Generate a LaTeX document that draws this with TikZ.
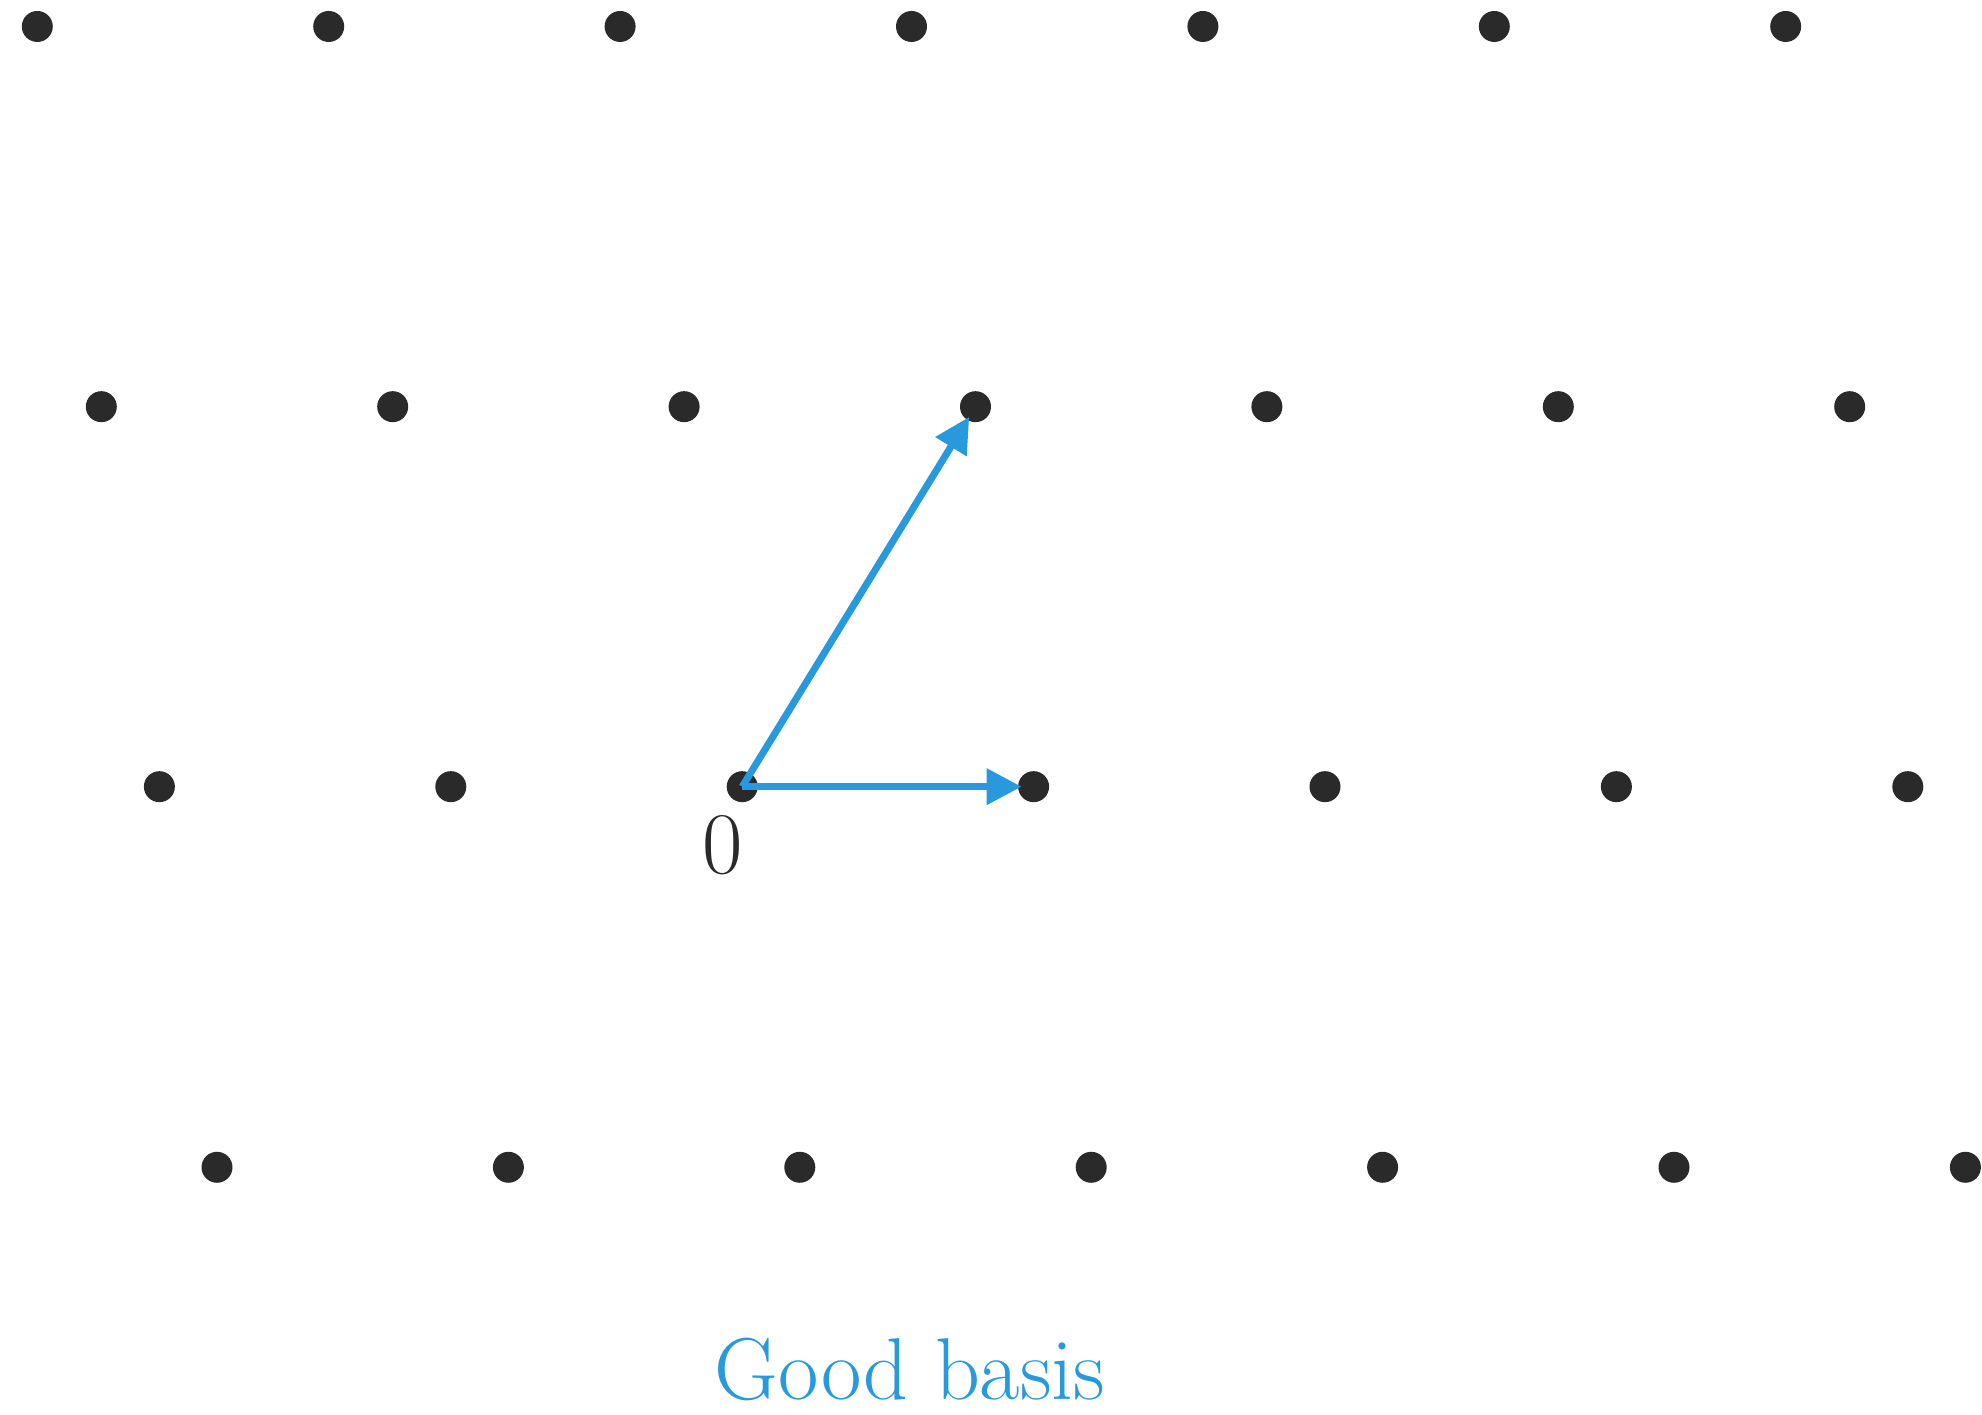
\documentclass[tikz,border=0pt]{standalone}
\usepackage{tikz}
\usetikzlibrary{arrows.meta,positioning}
\usepackage{xcolor}
\definecolor{dotc}{HTML}{2A2A2A}
\definecolor{basis}{HTML}{2899DD}

\begin{document}
\begin{tikzpicture}[
  >={Triangle[length=0.35cm, width=0.35cm]},
  pt/.style={circle, fill=dotc, inner sep=0pt, minimum size=0.31cm},
  vec/.style={->, draw=basis, fill=basis, line width=2pt, shorten >=0.12cm},
]
\useasboundingbox (0,0) rectangle (19.82,14.15);

% lattice rows, top to bottom
\foreach \r/\x/\y in {a/0.373/13.885, b/1.013/10.083, c/1.594/6.283, d/2.170/2.477}{
  \foreach \k in {0,...,6}
    \node[pt] (\r\k) at ({\x+\k*2.914}, \y) {};
}

% basis vectors from the origin c2
\draw[vec] (c2.center) -- (c3.center);
\draw[vec] (c2.center) -- (b3.center);

\node[font=\fontsize{25}{30}\selectfont, text=dotc, inner sep=0pt, below=0.12cm of c2, xshift=-0.2cm] (zero) {0};
\node[font=\fontsize{25}{30}\selectfont, text=basis, anchor=base] (lbl) at (9.10, 0.15) {Good basis};

\end{tikzpicture}
\end{document}
